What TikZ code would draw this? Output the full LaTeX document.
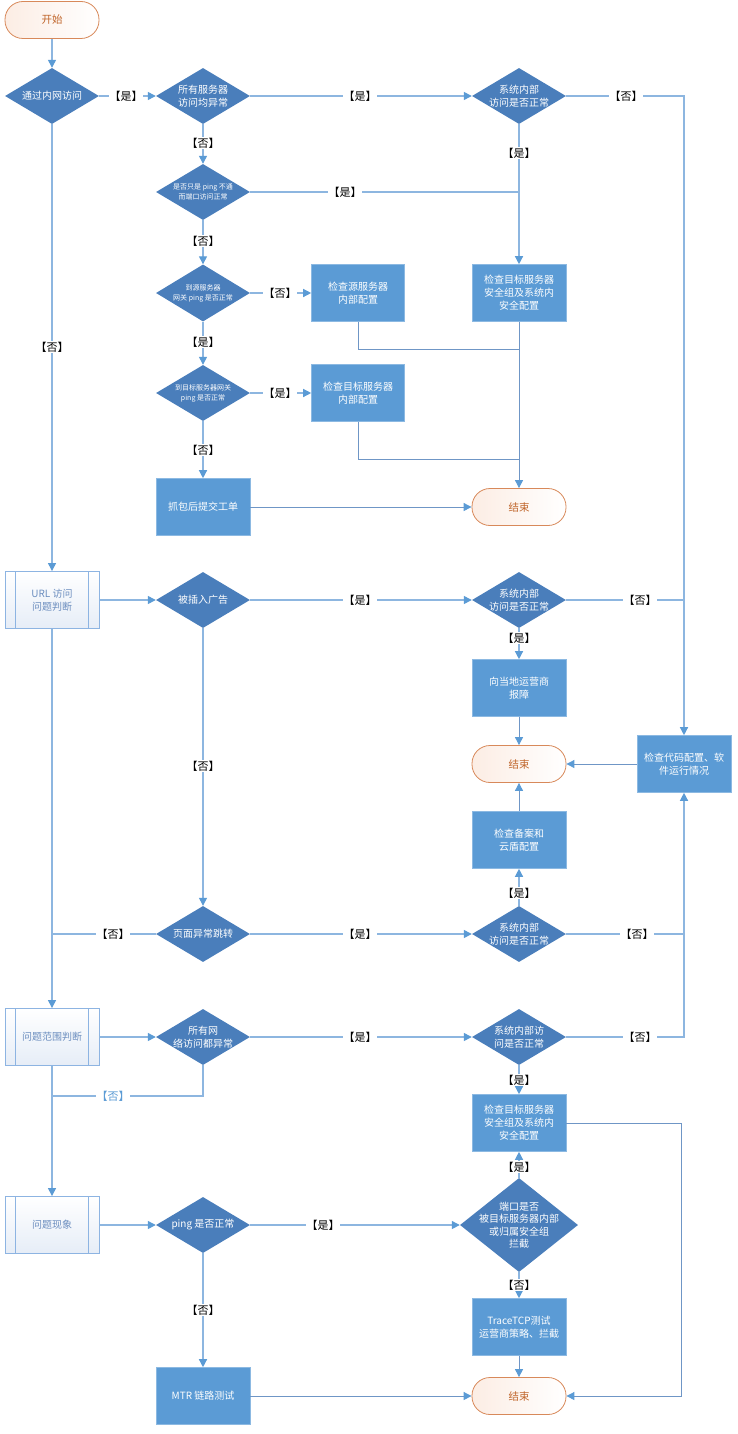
\documentclass[tikz,border=0pt]{standalone}
\usepackage{fontspec}
\setmainfont{Noto Sans CJK SC}
\usetikzlibrary{shapes.geometric,arrows.meta}
\definecolor{dia}{HTML}{4A7EBB}
\definecolor{boxc}{HTML}{5B9BD5}
\definecolor{ln}{HTML}{8DB6E0}
\definecolor{lnd}{HTML}{6F96C6}
\definecolor{arr}{HTML}{5B9BD5}
\definecolor{termb}{HTML}{D8895A}
\definecolor{termt}{HTML}{C0652A}
\definecolor{termf}{HTML}{FCEDE4}
\definecolor{ppb}{HTML}{8DB4E2}
\definecolor{ppt}{HTML}{6C8EBF}
\definecolor{ppf}{HTML}{E6EDF7}
\newcommand\mkdec[5][]{\node[dec,#1] (#2) at (#3) {}; \node[dtext,#4] (#2t) at (#2) {#5};}
\begin{document}
\begin{tikzpicture}[x=1pt,y=-1pt,
  dec/.style={diamond, fill=dia, draw=none, minimum width=94pt, minimum height=56pt, inner sep=0pt},
  dtext/.style={text=white, align=center, font=\fontsize{10}{12.5}\selectfont, inner sep=0pt},
  small/.style={font=\fontsize{7}{10}\selectfont},
  pbox/.style={rectangle, fill=boxc, draw=boxc!70!white, line width=0.6pt, minimum width=94pt, minimum height=57pt, text=white, align=center, inner sep=1pt, font=\fontsize{10}{13}\selectfont},
  term/.style={rectangle, rounded corners=18pt, draw=termb, line width=0.8pt, left color=termf, right color=white, text=termt, minimum width=94pt, minimum height=37pt, font=\fontsize{10.5}{12}\selectfont},
  proc/.style={rectangle, draw=ppb, line width=0.9pt, top color=white, bottom color=ppf, text=ppt, minimum width=94pt, minimum height=57pt, align=center, font=\fontsize{10}{13}\selectfont},
  conn/.style={draw=ln, line width=1.3pt},
  connd/.style={draw=lnd, line width=0.9pt},
  tip/.style={-{Triangle[width=8pt,length=8pt,color=arr]}},
  lbl/.style={fill=white, inner sep=0.5pt, text=black, font=\fontsize{11}{12}\selectfont},
]
\useasboundingbox (0,0) rectangle (738,1434);

% ---------- nodes ----------
\node[term] (start) at (52,20) {开始};
\mkdec{d1}{52,96}{}{通过内网访问}
\mkdec{d2}{203,96}{}{所有服务器\\访问均异常}
\mkdec{d3}{519,96}{}{系统内部\\访问是否正常}
\mkdec{d4}{203,192}{small}{是否只是 ping 不通\\而端口访问正常}
\mkdec[minimum height=57pt]{d5}{203,293}{small}{到源服务器\\网关 ping 是否正常}
\mkdec{d6}{203,393}{small}{到目标服务器网关\\ping 是否正常}
\node[pbox] (b1) at (519,293) {检查目标服务器\\安全组及系统内\\安全配置};
\node[pbox,minimum width=93pt] (b2) at (358,293) {检查源服务器\\内部配置};
\node[pbox,minimum width=93pt] (b3) at (358,393) {检查目标服务器\\内部配置};
\node[pbox] (b4) at (203,507) {抓包后提交工单};
\node[term] (e1) at (519,507) {结束};

\node[proc] (u) at (52,600) {URL 访问\\问题判断};
\mkdec{d7}{203,600}{}{被插入广告}
\mkdec{d8}{519,600}{}{系统内部\\访问是否正常}
\node[pbox] (b5) at (519,688) {向当地运营商\\报障};
\node[term] (e2) at (519,764) {结束};
\node[pbox] (b6) at (684,764) {检查代码配置、软\\件运行情况};
\node[pbox] (b7) at (519,840) {检查备案和\\云盾配置};
\mkdec{d9}{203,934}{}{页面异常跳转}
\mkdec{d10}{519,934}{}{系统内部\\访问是否正常}

\node[proc] (r) at (52,1037) {问题范围判断};
\mkdec{d11}{203,1037}{}{所有网\\络访问都异常}
\mkdec{d12}{519,1037}{}{系统内部访\\问是否正常}
\node[pbox] (b8) at (519,1123) {检查目标服务器\\安全组及系统内\\安全配置};

\node[proc] (p) at (52,1225) {问题现象};
\mkdec{d13}{203,1225}{}{ping 是否正常}
\mkdec[minimum width=118pt, minimum height=94pt]{d14}{519,1225}{}{端口是否\\被目标服务器内部\\或归属安全组\\拦截}
\node[pbox] (b9) at (519,1327) {TraceTCP测试\\运营商策略、拦截};
\node[term] (e3) at (519,1396) {结束};
\node[pbox] (b10) at (203,1396) {MTR 链路测试};

% inner bars of predefined-process boxes
\foreach \n in {u,r,p}{
  \draw[draw=ppb, line width=0.9pt] ([xshift=11pt]\n.north west) -- ([xshift=11pt]\n.south west);
  \draw[draw=ppb, line width=0.9pt] ([xshift=-11pt]\n.north east) -- ([xshift=-11pt]\n.south east);
}

% junction coordinates
\coordinate (j1) at (519,192);
\coordinate (j2) at (519,349);
\coordinate (j3) at (519,459);
\coordinate (j4) at (684,600);
\coordinate (j5) at (52,934);
\coordinate (j6) at (52,1096);
\coordinate (j7) at (681,1123);

% ---------- connectors ----------
\draw[conn,tip] (start) -- (d1);
\draw[conn,tip] (d1.east) -- (d2.west);
\draw[conn,tip] (d2.east) -- (d3.west);
\draw[conn,tip] (d3.east) -| (b6.north);
\draw[conn,tip] (d3.south) -- (b1.north);
\draw[conn,tip] (d2.south) -- (d4.north);
\draw[conn] (d4.east) -- (j1);
\draw[conn,tip] (d4.south) -- (d5.north);
\draw[conn,tip] (d5.east) -- (b2.west);
\draw[conn,tip] (d5.south) -- (d6.north);
\draw[conn,tip] (d6.east) -- (b3.west);
\draw[conn,tip] (d6.south) -- (b4.north);
\draw[connd,tip] (b4.east) -- (e1.west);
\draw[connd,tip] (b1.south) -- (e1.north);
\draw[connd] (b2.south) |- (j2);
\draw[connd] (b3.south) |- (j3);

\draw[conn,tip] (d1.south) -- (u.north);
\draw[conn,tip] (u.east) -- (d7.west);
\draw[conn,tip] (d7.east) -- (d8.west);
\draw[conn] (d8.east) -- (j4);
\draw[conn,tip] (d8.south) -- (b5.north);
\draw[connd,tip] (b5.south) -- (e2.north);
\draw[connd,tip] (b6.west) -- (e2.east);
\draw[connd,tip] (b7.north) -- (e2.south);
\draw[conn,tip] (d7.south) -- (d9.north);
\draw[conn] (d9.west) -- (j5);
\draw[conn,tip] (d9.east) -- (d10.west);
\draw[conn,tip] (d10.north) -- (b7.south);
\draw[conn] (d10.east) -- (d10.east -| b6.south);
\draw[conn,tip] (d12.east) -| (b6.south);

\draw[conn,tip] (u.south) -- (r.north);
\draw[conn,tip] (r.east) -- (d11.west);
\draw[conn,tip] (d11.east) -- (d12.west);
\draw[conn,tip] (d12.south) -- (b8.north);
\draw[conn] (d11.south) |- (j6);

\draw[conn,tip] (r.south) -- (p.north);
\draw[conn,tip] (p.east) -- (d13.west);
\draw[conn,tip] (d13.east) -- (d14.west);
\draw[conn,tip] (d14.north) -- (b8.south);
\draw[conn,tip] (d14.south) -- (b9.north);
\draw[connd,tip] (b9.south) -- (e3.north);
\draw[conn,tip] (d13.south) -- (b10.north);
\draw[connd,tip] (b10.east) -- (e3.west);
\draw[connd,tip] (b8.east) -- (j7) |- (e3.east);

% ---------- labels ----------
\node[lbl] (l1) at (126,96) {【是】};
\node[lbl] (l2) at (360,96) {【是】};
\node[lbl] (l3) at (626,96) {【否】};
\node[lbl] (l4) at (519,153) {【是】};
\node[lbl] (l5) at (203,143) {【否】};
\node[lbl] (l6) at (345,192) {【是】};
\node[lbl] (l7) at (203,241) {【否】};
\node[lbl] (l8) at (280,293) {【否】};
\node[lbl] (l9) at (203,342) {【是】};
\node[lbl] (l10) at (280,393) {【是】};
\node[lbl] (l11) at (203,450) {【否】};
\node[lbl] (l12) at (52,347) {【否】};
\node[lbl] (l13) at (360,600) {【是】};
\node[lbl] (l14) at (640,600) {【否】};
\node[lbl] (l15) at (519,638) {【是】};
\node[lbl] (l16) at (203,766) {【否】};
\node[lbl] (l17) at (113,934) {【否】};
\node[lbl] (l18) at (360,934) {【是】};
\node[lbl] (l19) at (519,893) {【是】};
\node[lbl] (l20) at (637,934) {【否】};
\node[lbl] (l21) at (360,1037) {【是】};
\node[lbl] (l22) at (640,1037) {【否】};
\node[lbl] (l23) at (519,1080) {【是】};
\node[lbl,text=arr] (l24) at (113,1096) {【否】};
\node[lbl] (l25) at (323,1225) {【是】};
\node[lbl] (l26) at (519,1167) {【是】};
\node[lbl] (l27) at (519,1285) {【否】};
\node[lbl] (l28) at (203,1310) {【否】};
\end{tikzpicture}
\end{document}
